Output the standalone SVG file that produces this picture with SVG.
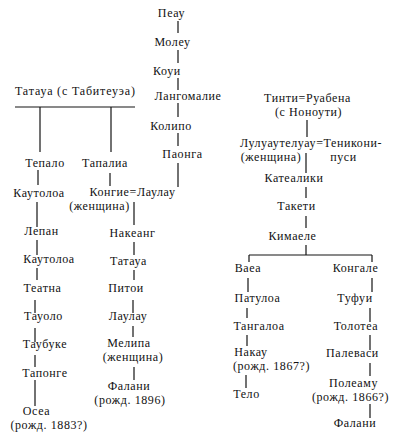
<svg xmlns="http://www.w3.org/2000/svg" width="408" height="438" viewBox="0 0 408 438">
<style>
text{font-family:"Liberation Serif","DejaVu Serif",serif;font-size:12px;letter-spacing:0.6px;fill:#111;text-anchor:middle}
.s{text-anchor:start;letter-spacing:0}
line{stroke:#141414;stroke-width:1.2}
</style>
<rect width="408" height="438" fill="#fff"/>
<g id="connectors">
<line x1="178" y1="21" x2="178" y2="33"/>
<line x1="178" y1="50" x2="178" y2="63"/>
<line x1="178" y1="78" x2="178" y2="90"/>
<line x1="178" y1="103" x2="178" y2="117"/>
<line x1="178" y1="133" x2="178" y2="146"/>
<line x1="178" y1="163" x2="178" y2="187"/>
<line x1="15" y1="107" x2="135" y2="107"/>
<line x1="40" y1="107" x2="40" y2="152"/>
<line x1="111" y1="107" x2="111" y2="152"/>
<line x1="38" y1="170" x2="38" y2="185"/>
<line x1="37" y1="202" x2="37" y2="227"/>
<line x1="37" y1="240" x2="37" y2="255"/>
<line x1="37" y1="268" x2="37" y2="280"/>
<line x1="35" y1="300" x2="35" y2="313"/>
<line x1="35" y1="328" x2="35" y2="342"/>
<line x1="35" y1="355" x2="35" y2="367"/>
<line x1="35" y1="380" x2="35" y2="406"/>
<line x1="110" y1="173" x2="110" y2="186"/>
<line x1="134" y1="202" x2="134" y2="225"/>
<line x1="134" y1="242" x2="134" y2="255"/>
<line x1="134" y1="270" x2="134" y2="280"/>
<line x1="133" y1="300" x2="133" y2="313"/>
<line x1="133" y1="326" x2="133" y2="337"/>
<line x1="134" y1="367" x2="134" y2="380"/>
<line x1="307" y1="120" x2="307" y2="137"/>
<line x1="306" y1="153" x2="306" y2="173"/>
<line x1="306" y1="187" x2="306" y2="198"/>
<line x1="306" y1="216" x2="306" y2="228"/>
<line x1="306" y1="245" x2="306" y2="255"/>
<line x1="249" y1="255" x2="372" y2="255"/>
<line x1="249" y1="255" x2="249" y2="262"/>
<line x1="372" y1="255" x2="372" y2="262"/>
<line x1="248" y1="278" x2="248" y2="292"/>
<line x1="247" y1="308" x2="247" y2="318"/>
<line x1="247" y1="335" x2="247" y2="346"/>
<line x1="246" y1="375" x2="246" y2="388"/>
<line x1="372" y1="278" x2="372" y2="292"/>
<line x1="370" y1="308" x2="370" y2="322"/>
<line x1="370" y1="335" x2="370" y2="350"/>
<line x1="370" y1="363" x2="370" y2="376"/>
<line x1="370" y1="404" x2="370" y2="418"/>
</g>
<g id="peau"><text x="171.5" y="17">Пеау</text></g>
<g id="moleu"><text x="172.5" y="46">Молеу</text></g>
<g id="koui"><text x="167" y="75">Коуи</text></g>
<g id="langomalie"><text x="188" y="100">Лангомалие</text></g>
<g id="kolipo"><text x="171" y="130">Колипо</text></g>
<g id="paonga"><text x="182.5" y="158">Паонга</text></g>
<g id="tataua-root"><text class="s" x="15" y="95" textLength="120">Татауа (с Табитеуэа)</text></g>
<g id="tepalo"><text x="45" y="167">Тепало</text></g>
<g id="tapalia"><text x="105" y="167">Тапалиа</text></g>
<g id="kautoloa1"><text x="39" y="197">Каутолоа</text></g>
<g id="kongie-laulau"><text x="132.5" y="196">Конгие=Лаулау</text><text x="99.5" y="209.5">(женщина)</text></g>
<g id="lepan"><text x="41.5" y="235">Лепан</text></g>
<g id="nakeang"><text x="132.5" y="237">Накеанг</text></g>
<g id="kautoloa2"><text x="49" y="263">Каутолоа</text></g>
<g id="tataua2"><text x="128.5" y="265">Татауа</text></g>
<g id="teatna"><text x="42.5" y="292">Театна</text></g>
<g id="pitoi"><text x="126" y="292">Питои</text></g>
<g id="tauolo"><text x="43.5" y="320">Тауоло</text></g>
<g id="laulau2"><text x="128" y="320">Лаулау</text></g>
<g id="taubuke"><text x="45" y="348">Таубуке</text></g>
<g id="melipa"><text x="129" y="347">Мелипа</text><text x="133" y="360.5">(женщина)</text></g>
<g id="taponge"><text x="45" y="377">Тапонге</text></g>
<g id="falani1"><text x="129" y="390">Фалани</text><text x="130" y="403.5">(рожд. 1896)</text></g>
<g id="osea"><text x="36.5" y="415">Осеа</text><text x="49" y="428.5">(рожд. 1883?)</text></g>
<g id="tinti"><text x="307.5" y="102">Тинти=Руабена</text><text x="308.5" y="115.5">(с Ноноути)</text></g>
<g id="luluautelua"><text x="311" y="147">Лулуаутелуау=Теникони-</text><text x="271" y="160.5">(женщина)</text><text x="343.5" y="160.5">пуси</text></g>
<g id="katealiki"><text x="294" y="182">Катеалики</text></g>
<g id="taketi"><text x="296.5" y="210">Такети</text></g>
<g id="kimaele"><text x="292.5" y="240">Кимаеле</text></g>
<g id="vaea"><text x="248" y="272">Ваеа</text></g>
<g id="kongale"><text x="355.5" y="272">Конгале</text></g>
<g id="patuloa"><text x="257.5" y="302">Патулоа</text></g>
<g id="tufui"><text x="355" y="302">Туфуи</text></g>
<g id="tangaloa"><text x="259" y="330">Тангалоа</text></g>
<g id="tolotea"><text x="356" y="330">Толотеа</text></g>
<g id="nakau"><text x="251" y="356">Накау</text><text x="271.5" y="369.5">(рожд. 1867?)</text></g>
<g id="palevasi"><text x="352.5" y="357">Палеваси</text></g>
<g id="telo"><text x="246.5" y="398">Тело</text></g>
<g id="poleamu"><text x="353.5" y="387">Полеаму</text><text x="350.5" y="400.5">(рожд. 1866?)</text></g>
<g id="falani2"><text x="355" y="427">Фалани</text></g>
</svg>
